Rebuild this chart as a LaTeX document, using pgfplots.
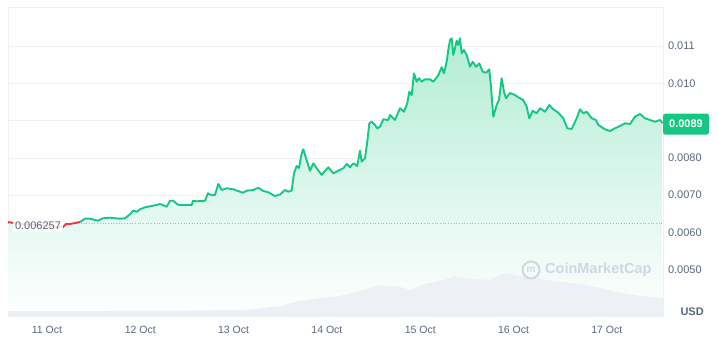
\documentclass[border=0pt]{standalone}
\usepackage{pgfplots}
\pgfplotsset{compat=1.18}
\usepackage{pgfplotstable}
\usepackage{fontspec}
\setmainfont{Liberation Sans}
\definecolor{cmcgreen}{HTML}{16C784}
\definecolor{cmcred}{HTML}{EA3943}
\definecolor{cmcgray}{HTML}{58667E}
\definecolor{gridc}{HTML}{EFF2F5}
\definecolor{volc}{HTML}{EDF0F4}
\definecolor{wm}{HTML}{CFD6E4}

% hours since 11 Oct 00:00, price in USD
\pgfplotstableread{
h v
-10.03 0.006281
-6.94 0.006228
-3.09 0.006201
0.77 0.006174
2.83 0.006147
4.12 0.006147
4.89 0.006228
5.92 0.006228
7.20 0.006255
8.49 0.006281
9.77 0.006370
11.06 0.006370
12.35 0.006335
13.12 0.006316
14.40 0.006381
16.20 0.006397
17.49 0.006381
18.78 0.006370
20.06 0.006381
21.35 0.006488
22.12 0.006584
23.15 0.006558
23.92 0.006622
25.21 0.006675
26.49 0.006702
28.21 0.006737
29.06 0.006764
30.79 0.006692
31.64 0.006852
32.41 0.006852
33.69 0.006745
34.98 0.006737
37.22 0.006737
37.55 0.006852
38.50 0.006836
40.64 0.006852
41.41 0.007051
42.36 0.006997
43.21 0.007005
44.06 0.007300
44.93 0.007139
46.22 0.007185
47.92 0.007158
49.13 0.007113
50.41 0.007067
51.36 0.007121
53.06 0.007139
54.35 0.007201
55.63 0.007113
56.92 0.007078
58.64 0.006978
59.93 0.007019
61.21 0.007139
62.06 0.007094
62.94 0.007126
63.53 0.007587
64.22 0.007783
64.81 0.007729
65.51 0.008123
65.92 0.008231
66.61 0.007997
67.64 0.007657
68.49 0.007855
69.37 0.007721
70.65 0.007542
72.35 0.007748
73.64 0.007587
74.92 0.007657
76.21 0.007721
77.08 0.007836
77.93 0.007748
78.78 0.007855
79.81 0.007783
80.50 0.008193
80.94 0.007898
81.79 0.007989
82.38 0.008434
82.90 0.008928
83.51 0.008970
84.36 0.008882
84.95 0.008794
85.65 0.008836
86.50 0.009035
87.78 0.009016
88.22 0.009150
89.51 0.009016
90.79 0.009330
91.82 0.009239
92.67 0.009464
93.18 0.009775
93.80 0.009686
94.39 0.010268
95.09 0.010043
95.68 0.010134
96.37 0.010043
97.22 0.010107
98.51 0.010107
99.36 0.010043
100.64 0.010218
101.52 0.010429
102.11 0.010268
102.80 0.010579
103.21 0.010893
103.65 0.011161
104.09 0.011206
104.50 0.010759
104.94 0.010938
105.37 0.011142
105.78 0.011027
106.22 0.011206
106.66 0.010804
107.25 0.010893
107.95 0.010759
108.80 0.010445
109.49 0.010579
110.34 0.010445
111.19 0.010536
112.06 0.010311
112.91 0.010284
113.76 0.010375
114.20 0.009909
114.79 0.009105
115.66 0.009418
116.25 0.009552
116.95 0.010134
117.54 0.009775
118.05 0.009598
119.08 0.009740
120.37 0.009686
121.22 0.009625
122.50 0.009552
123.38 0.009373
124.05 0.009062
124.92 0.009265
125.95 0.009196
126.80 0.009330
128.09 0.009239
129.19 0.009418
130.22 0.009303
131.51 0.009212
132.80 0.009062
133.82 0.008794
134.95 0.008775
136.24 0.009062
137.09 0.009303
137.94 0.009196
138.81 0.009239
140.10 0.009062
141.20 0.009016
141.80 0.008882
143.52 0.008767
144.80 0.008721
146.09 0.008794
147.38 0.008855
148.66 0.008928
149.95 0.008909
151.24 0.009105
152.52 0.009177
153.81 0.009062
155.10 0.009016
156.38 0.008970
157.67 0.009016
158.36 0.008928
}\pricedata

% volume (arbitrary units)
\pgfplotstableread{
h vol
-10.03 1.6
13.63 1.6
39.35 1.8
52.21 2.1
59.93 3.2
65.07 4.9
70.22 5.8
75.36 6.5
80.50 8.1
85.65 10.0
90.79 9.4
93.36 8.4
97.22 10.4
101.08 11.3
104.94 12.9
108.80 12.0
113.94 11.7
117.80 13.9
121.66 12.9
126.80 12.0
131.94 11.0
137.09 10.4
142.23 9.1
147.38 7.4
152.52 6.5
158.44 5.8
}\voldata

\begin{document}
\begin{tikzpicture}
\useasboundingbox (0,0) rectangle (718pt,356pt);
\begin{axis}[
  at={(8pt,40pt)}, anchor=south west,
  scale only axis, width=655pt, height=309pt,
  xmin=-10.03, xmax=158.44, ymin=0.003761, ymax=0.012046,
  clip=false,
  axis line style={draw=gridc},
  ytick={0.005,0.006,0.007,0.008,0.009,0.010,0.011},
  yticklabels={0.0050,0.0060,0.0070,0.0080,{},0.010,0.011},
  yticklabel pos=right,
  ymajorgrids, grid style={draw=gridc, line width=0.8pt},
  xtick={0,24,48,72,96,120,144},
  xticklabels={11 Oct,12 Oct,13 Oct,14 Oct,15 Oct,16 Oct,17 Oct},
  major tick length=0pt, tick style={draw=none},
  tick label style={font=\fontsize{11}{13}\selectfont, text=cmcgray},
  yticklabel style={anchor=west, xshift=1.5pt},
  xticklabel style={anchor=center, yshift=-14pt, font=\fontsize{10.5}{12}\selectfont},
  scaled y ticks=false,
]
\addplot[draw=none, top color=cmcgreen!33!white, middle color=cmcgreen!10!white, bottom color=white]
  table[x=h, y=v] {\pricedata} -- (axis cs:158.36,0.003761) -- (axis cs:-10.03,0.003761) -- cycle;
\addplot[gray!60, dotted, line width=0.7pt] coordinates {(-10.03,0.006257) (158.44,0.006257)};
\addplot[cmcred, line width=1.9pt, line join=round, restrict x to domain=-11:8.5]
  table[x=h, y=v] {\pricedata};
\addplot[cmcgreen, line width=1.9pt, line join=round, restrict x to domain=8.4:160]
  table[x=h, y=v] {\pricedata};
\node[fill=white, fill opacity=0.85, text opacity=1, text=cmcgray,
      font=\fontsize{11}{13}\selectfont, inner xsep=2pt, inner ysep=2pt]
  at (axis cs:-2.31,0.00618) {0.006257};
\end{axis}
\begin{axis}[
  at={(8pt,40pt)}, anchor=south west,
  scale only axis, width=655pt, height=309pt,
  xmin=-10.03, xmax=158.44, ymin=0, ymax=100,
  hide axis, clip=false,
]
\addplot[fill=volc, draw=none] table[x=h, y=vol] {\voldata} \closedcycle;
\node[circle, draw=wm, line width=2pt, minimum size=17pt, inner sep=0pt,
      text=wm, font=\bfseries\fontsize{10}{10}\selectfont]
  at (axis cs:124.5,14.9) {m};
\node[anchor=west, text=wm, inner sep=0pt, font=\bfseries\fontsize{14.5}{16}\selectfont]
  at (axis cs:128.1,14.9) {CoinMarketCap};
\node[anchor=west, fill=cmcgreen, text=white, rounded corners=2pt,
      minimum height=21pt, inner xsep=6pt, font=\bfseries\fontsize{11}{13}\selectfont]
  at (axis cs:158.44,62.1) {0.0089};
\node[anchor=west, text=cmcgray, inner sep=0pt, font=\bfseries\fontsize{11}{13}\selectfont]
  at (axis cs:162.9,1.3) {USD};
\end{axis}
\end{tikzpicture}
\end{document}
